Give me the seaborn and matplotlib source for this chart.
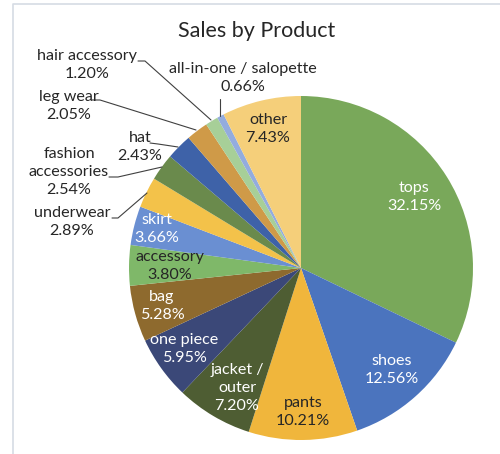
import matplotlib
matplotlib.use("Agg")
import matplotlib.pyplot as plt
from matplotlib.lines import Line2D
import seaborn as sns

# ---- data ----
categories = ["tops", "shoes", "pants", "jacket /\nouter", "one piece", "bag",
              "accessory", "skirt", "underwear", "fashion\naccessories", "hat",
              "leg wear", "hair accessory", "all-in-one / salopette", "other"]
shares = [32.15, 12.56, 10.21, 7.20, 5.95, 5.28, 3.80, 3.66, 2.89, 2.54,
          2.43, 2.05, 1.20, 0.66, 7.43]
pct_labels = ["32.15%", "12.56%", "10.21%", "7.20%", "5.95%", "5.28%", "3.80%",
              "3.66%", "2.89%", "2.54%", "2.43%", "2.05%", "1.20%", "0.66%", "7.43%"]

# ---- styling ----
colors = ["#79A85A", "#4B74BE", "#F0B63C", "#4E5D33", "#3B4878", "#8E6A2E",
          "#7FB869", "#6A8FD2", "#F3C24A", "#6A8A4C", "#3E62A8", "#CF9A48",
          "#A7CF98", "#93ACDE", "#F5CF7A"]
text_colors = ["white", "white", "#262626", "white", "white", "white", "#262626",
               "white", "#262626", "#262626", "#262626", "#262626", "#262626",
               "#262626", "#262626"]
# label block centres in pixels (from top-left)
label_pos = [(414, 197), (392, 370), (303, 412), (237, 388), (184, 349),
             (162, 306), (170, 266), (157, 229), (72, 222), (69, 172),
             (140, 147), (69, 106), (87, 65), (243, 78), (268, 129)]
leaders = {
    12: [(138, 61), (145, 61), (211, 120)],
    13: [(220, 99), (220, 116)],
    11: [(92, 100), (100, 100), (196, 130)],
    10: [(150, 143), (158, 144), (178, 147)],
    9: [(109, 177), (118, 177), (162, 167)],
    8: [(112, 218), (118, 218), (147, 193)],
}

sns.set_theme(style="white")
plt.rcParams["font.family"] = ["Lato", "DejaVu Sans"]

W, H = 500, 454
fig = plt.figure(figsize=(W / 100, H / 100), dpi=100)
fig.patch.set_facecolor("white")

cx, cy, r = 301, 268, 172
ax = fig.add_axes([(cx - r) / W, 1 - (cy + r) / H, 2 * r / W, 2 * r / H])
ax.pie(shares, colors=sns.color_palette(colors), startangle=90,
       counterclock=False, radius=1.0,
       wedgeprops=dict(linewidth=0, edgecolor="none"))
ax.set_xlim(-1, 1)
ax.set_ylim(-1, 1)
ax.axis("off")

def fx(x):
    return x / W

def fy(y):
    return 1 - y / H

for i, (cat, pct) in enumerate(zip(categories, pct_labels)):
    x, y = label_pos[i]
    fig.text(fx(x), fy(y), f"{cat}\n{pct}", ha="center", va="center",
             fontsize=11.6, color=text_colors[i], linespacing=1.36)

for pts in leaders.values():
    xs = [fx(p[0]) for p in pts]
    ys = [fy(p[1]) for p in pts]
    fig.add_artist(Line2D(xs, ys, color="#404040", lw=0.8,
                          transform=fig.transFigure))

fig.text(fx(257), fy(31), "Sales by Product", ha="center", va="center",
         fontsize=15.5, color="#262626")

# chart frame (top and left edges visible)
fig.add_artist(Line2D([fx(12.5), fx(12.5), 1.0], [0.0, fy(3.5), fy(3.5)],
                      color="#D6DCE4", lw=1.2, transform=fig.transFigure))

fig.savefig("out.png", dpi=100)
